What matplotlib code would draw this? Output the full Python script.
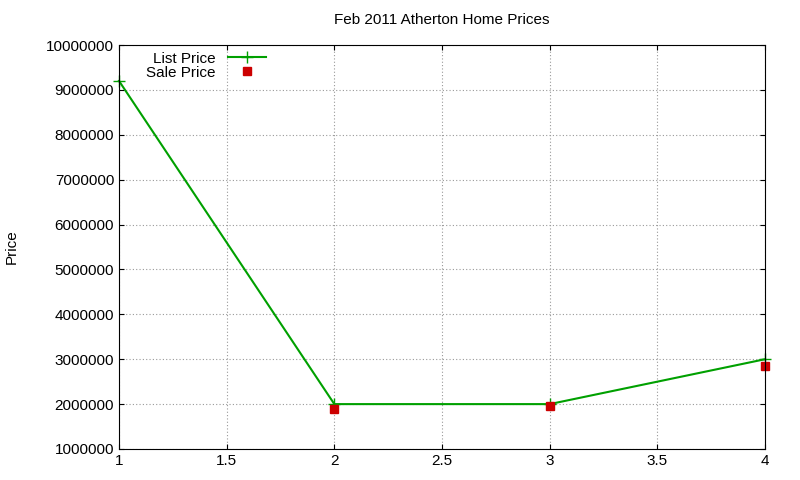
import matplotlib
matplotlib.use("Agg")
import matplotlib.pyplot as plt

x = [1, 2, 3, 4]
list_price = [9200000, 2000000, 2000000, 3000000]
sale_x = [2, 3, 4]
sale_price = [1900000, 1950000, 2850000]

plt.rcParams['font.family'] = ['Liberation Sans', 'DejaVu Sans']
fig = plt.figure(figsize=(8, 4.8), dpi=100)
ax = fig.add_axes([119/800, 1-449/480, (765-119)/800, (449-45)/480])
ax.plot(x, list_price, color='#00a000', marker='+', markersize=9, lw=1.5, label='List Price', clip_on=False)
ax.plot(sale_x, sale_price, color='#cc0000', marker='s', markersize=6, ls='none', label='Sale Price', clip_on=False)
ax.set_xlim(1, 4)
ax.set_ylim(1000000, 10000000)
ax.set_yticks(range(1000000, 10000001, 1000000))
ax.set_xticks([1, 1.5, 2, 2.5, 3, 3.5, 4])
ax.set_xticklabels(['1', '1.5', '2', '2.5', '3', '3.5', '4'])
ax.ticklabel_format(axis='y', style='plain')
ax.grid(True, color='#999999', ls=(0, (1, 2)), lw=0.8)
ax.tick_params(direction='in', labelsize=11, top=True, right=True)
fig.text(12/800, 1-247/480, 'Price', rotation=90, ha='center', va='center', fontsize=11)
ax.set_title('Feb 2011 Atherton Home Prices', fontsize=11, pad=15)
ax.legend(loc='upper left', bbox_to_anchor=(0.025, 1.01), frameon=False, markerfirst=False,
          fontsize=11, handlelength=2.5, labelspacing=0.0, borderaxespad=0.3)
fig.savefig('out.png', dpi=100)
